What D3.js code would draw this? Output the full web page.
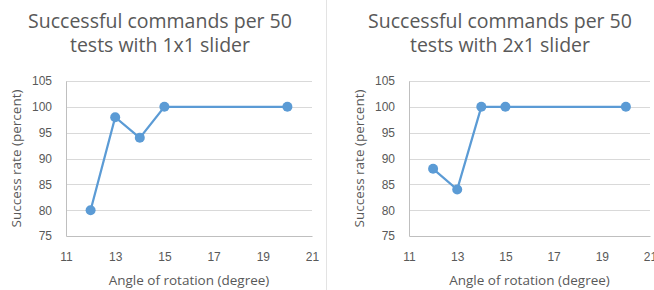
<!DOCTYPE html>
<html lang="en">
<head>
  <meta charset="UTF-8" />
  <title>Successful commands per 50 tests</title>
  <script src="https://d3js.org/d3.v7.min.js"></script>
  <style>
    html, body { margin: 0; padding: 0; background: #fff; }
    svg { display: block; font-family: "Open Sans", sans-serif; }
    .grid line { stroke: #d9d9d9; stroke-width: 1px; }
    .axis text { fill: #595959; font-size: 12px; }
    .title { fill: #595959; font-size: 19.5px; }
    .axis-title { fill: #595959; font-size: 13.5px; }
    .series { fill: none; stroke: #5b9bd5; stroke-width: 2.25px; }
    .dot { fill: #5b9bd5; }
  </style>
</head>
<body>
  <svg id="chart" width="654" height="290"></svg>

  <script>
    // values
    const angles      = [12, 13, 14, 15, 20];
    const rate1x1     = [80, 98, 94, 100, 100];
    const rate2x1     = [88, 84, 100, 100, 100];
    const xTicks      = [11, 13, 15, 17, 19, 21];
    const yTicks      = [75, 80, 85, 90, 95, 100, 105];
    const titles      = [['Successful commands per 50', 'tests with 1x1 slider'],
                         ['Successful commands per 50', 'tests with 2x1 slider']];

    const svg = d3.select('#chart');

    // panel boxes (plot area in page pixels)
    const panels = [
      { left: 66, right: 312, titleX: 160, values: rate1x1, title: titles[0] },
      { left: 409, right: 650, titleX: 500, values: rate2x1, title: titles[1] }
    ];
    const plotTop = 81, plotBottom = 236;

    // thin divider between the two charts
    svg.append('line').attr('x1', 326.5).attr('x2', 326.5).attr('y1', 0).attr('y2', 290)
      .attr('stroke', '#e3e3e3').attr('stroke-width', 1);

    panels.forEach(p => {
      const x = d3.scaleLinear().domain([11, 21]).range([p.left, p.right]);
      const y = d3.scaleLinear().domain([75, 105]).range([plotBottom, plotTop]);
      const g = svg.append('g');

      // horizontal gridlines
      g.append('g').attr('class', 'grid')
        .selectAll('line').data(yTicks.slice(1)).join('line')
        .attr('x1', p.left).attr('x2', p.right)
        .attr('y1', d => Math.round(y(d)) + 0.5).attr('y2', d => Math.round(y(d)) + 0.5);

      // axes
      const yAxis = g.append('g').attr('class', 'axis')
        .attr('transform', `translate(${p.left},0)`)
        .call(d3.axisLeft(y).tickValues(yTicks).tickSize(0).tickPadding(14));
      yAxis.select('.domain').attr('stroke', '#bfbfbf');

      const xAxis = g.append('g').attr('class', 'axis')
        .attr('transform', `translate(0,${plotBottom})`)
        .call(d3.axisBottom(x).tickValues(xTicks).tickSize(0).tickPadding(16));
      xAxis.select('.domain').attr('stroke', '#bfbfbf');

      // titles
      const t = g.append('text').attr('class', 'title').attr('text-anchor', 'middle');
      t.append('tspan').attr('x', p.titleX).attr('y', 28).text(p.title[0]);
      t.append('tspan').attr('x', p.titleX).attr('y', 52).text(p.title[1]);

      const cx = (p.left + p.right) / 2;
      g.append('text').attr('class', 'axis-title').attr('text-anchor', 'middle')
        .attr('x', cx).attr('y', 285).text('Angle of rotation (degree)');

      g.append('text').attr('class', 'axis-title').attr('text-anchor', 'middle')
        .attr('transform', `translate(${p.left - 50},${(plotTop + plotBottom) / 2}) rotate(-90)`)
        .attr('dy', '0.35em')
        .text('Success rate (percent)');

      // series
      const pts = angles.map((a, i) => [a, p.values[i]]);
      g.append('path').attr('class', 'series')
        .attr('d', d3.line().x(d => x(d[0])).y(d => y(d[1]))(pts));
      g.selectAll('.dot').data(pts).join('circle').attr('class', 'dot')
        .attr('cx', d => x(d[0])).attr('cy', d => y(d[1])).attr('r', 5);
    });
  </script>
</body>
</html>
